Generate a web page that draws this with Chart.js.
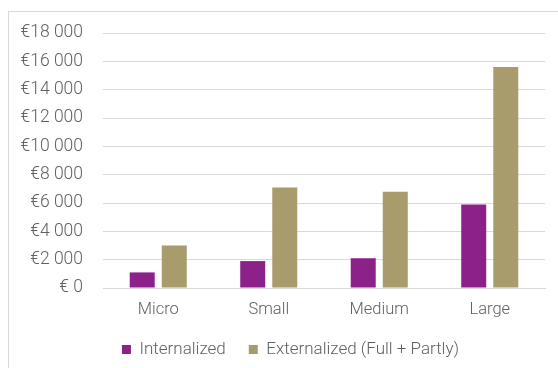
<!DOCTYPE html>
<html>
<head>
<meta charset="utf-8">
<script src="https://cdn.jsdelivr.net/npm/chart.js@4"></script>
<style>
  html, body { margin: 0; padding: 0; background: #fff; }
  body { width: 558px; height: 368px; position: relative; overflow: hidden; }
  .frame { position: absolute; left: 8px; top: 11px; width: 600px; height: 400px;
           border-left: 1px solid #d9d9d9; border-top: 1px solid #d9d9d9; }
  #wrap { position: absolute; left: 0; top: 0; width: 558px; height: 368px; }
</style>
</head>
<body>
<div class="frame"></div>
<div id="wrap"><canvas id="chart"></canvas></div>
<script>
const categories = ["Micro", "Small", "Medium", "Large"];
const internalized = [1100, 1900, 2100, 5900];
const externalized = [3000, 7100, 6800, 15600];
const seriesNames = ["Internalized", "Externalized (Full + Partly)"];
const yTicks = [0, 2000, 4000, 6000, 8000, 10000, 12000, 14000, 16000, 18000];

const fmt = v => v === 0 ? "€ 0" : "€" + String(v).replace(/\B(?=(\d{3})+(?!\d))/g, " ");
const font = size => ({ family: "Roboto", size: size, weight: "300" });

// legend keeps wide item spacing but takes less room, and sits a bit higher / further right
const legendFit = {
    id: "legendFit",
    beforeInit(chart) {
        const lg = chart.legend;
        if (!lg) return;
        const fit = lg.fit;
        lg.fit = function () { fit.call(this); this.height = 46; };
    },
    afterLayout(chart) {
        const lg = chart.legend;
        if (!lg) return;
        lg.top -= 4;
        lg.bottom -= 4;
        lg.left += 36;
    }
};

const ctx = document.getElementById("chart").getContext("2d");
const chart = new Chart(ctx, {
    type: "bar",
    data: {
        labels: categories,
        datasets: [
            { label: seriesNames[0], data: internalized, backgroundColor: "#8c2289" },
            { label: seriesNames[1], data: externalized, backgroundColor: "#a89c6c" }
        ]
    },
    options: {
        responsive: true,
        maintainAspectRatio: false,
        animation: false,
        categoryPercentage: 0.58,
        barPercentage: 0.78,
        layout: { padding: { top: 33, right: 13, left: 0, bottom: 0 } },
        plugins: {
            tooltip: { enabled: false },
            legend: {
                position: "bottom",
                labels: {
                    boxWidth: 9, boxHeight: 9, padding: 23,
                    color: "#606060",
                    font: font(17)
                }
            }
        },
        scales: {
            x: {
                afterFit: s => { s.height = 34; },
                grid: { display: false, drawTicks: false },
                border: { display: true, color: "#d9d9d9" },
                ticks: { color: "#606060", padding: 12, font: font(16.5) }
            },
            y: {
                min: 0, max: 18000,
                afterBuildTicks: s => { s.ticks = yTicks.map(v => ({ value: v })); },
                afterFit: s => { s.width = 103; },
                grid: { color: "#d9d9d9", drawTicks: false },
                border: { display: false },
                ticks: {
                    padding: 20,
                    color: "#606060",
                    font: font(17.5),
                    callback: v => fmt(v)
                }
            }
        }
    },
    plugins: [legendFit]
});
</script>
</body>
</html>
